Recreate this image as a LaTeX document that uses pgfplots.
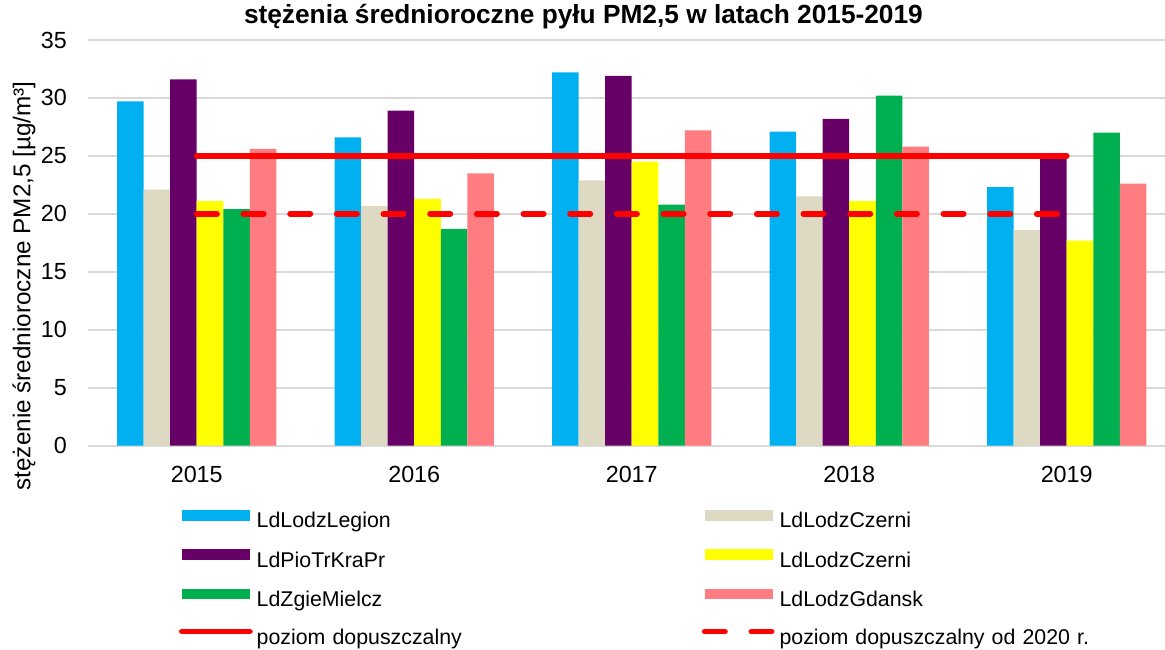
\documentclass[border=0pt]{standalone}
\usepackage{fontspec}
\setmainfont{Liberation Sans}
\usepackage{pgfplots}
\pgfplotsset{compat=1.18}
\definecolor{cBlue}{HTML}{00B0F0}
\definecolor{cBeige}{HTML}{DDD9C3}
\definecolor{cPurple}{HTML}{660066}
\definecolor{cYellow}{HTML}{FFFF00}
\definecolor{cGreen}{HTML}{00AF50}
\definecolor{cPink}{HTML}{FF7C80}
\definecolor{cRed}{HTML}{FF0000}
\definecolor{cGrid}{HTML}{D9D9D9}
\pgfplotsset{
  barimg/.style={legend image code/.code={\fill[##1] (0pt,1.5pt) rectangle (51pt,9.5pt);}},
  lineimg/.style={legend image code/.code={\draw[##1] (0pt,5.5pt) -- (51pt,5.5pt);}},
}
\begin{document}
\begin{tikzpicture}
\path[use as bounding box] (0,0) rectangle (873.75pt,487.5pt);
\clip (0,0) rectangle (873.75pt,487.5pt);
\begin{axis}[
  at={(66pt,153.2pt)}, anchor=south west,
  scale only axis, width=815.6pt, height=304.3pt,
  xmin=-0.5, xmax=4.5, ymin=0, ymax=35,
  xtick={0,1,2,3,4}, xticklabels={2015,2016,2017,2018,2019},
  ytick={0,5,...,35},
  major tick length=0pt,
  axis lines=left,
  axis line style={draw=none},
  ymajorgrids, grid style={draw=cGrid, line width=1.2pt},
  /pgf/number format/assume math mode=true,
  ticklabel style={font=\fontsize{17.5}{18}\selectfont, inner sep=0pt},
  yticklabel style={anchor=east, xshift=-15.75pt},
  xticklabel style={anchor=north, yshift=-15pt},
  ylabel={stężenie średnioroczne PM2,5 [µg/m³]},
  ylabel style={at={(axis description cs:-0.0589,0.394)}, anchor=center, font=\fontsize{18.2}{19}\selectfont},
  title={stężenia średnioroczne pyłu PM2,5 w latach 2015-2019},
  title style={at={(axis description cs:0.4556,1)}, anchor=base, yshift=6.75pt, font=\bfseries\fontsize{19.7}{20}\selectfont},
  clip=false,
  legend cell align=left,
  legend columns=2,
  legend style={draw=none, fill=none, inner sep=0pt, outer sep=0pt,
    at={(axis description cs:0.0837,-0.158)}, anchor=north west,
    font=\fontsize{16}{16}\selectfont,
    row sep=12.1pt,
    nodes={inner sep=0pt, text height=12pt, text depth=4pt, text width=300pt, align=left},
    /tikz/every odd column/.append style={column sep=3pt},
    /tikz/every even column/.append style={column sep=33.8pt}},
]
\addplot[ybar, bar width=0.122, bar shift=-0.305, fill=cBlue, draw=none, barimg] coordinates {(0,29.7) (1,26.6) (2,32.2) (3,27.1) (4,22.3)};
\addlegendentry{LdLodzLegion}
\addplot[ybar, bar width=0.122, bar shift=-0.183, fill=cBeige, draw=none, barimg] coordinates {(0,22.1) (1,20.7) (2,22.9) (3,21.5) (4,18.6)};
\addlegendentry{LdLodzCzerni}
\addplot[ybar, bar width=0.122, bar shift=-0.061, fill=cPurple, draw=none, barimg] coordinates {(0,31.6) (1,28.9) (2,31.9) (3,28.2) (4,25.0)};
\addlegendentry{LdPioTrKraPr}
\addplot[ybar, bar width=0.122, bar shift=0.061, fill=cYellow, draw=none, barimg] coordinates {(0,21.1) (1,21.3) (2,24.5) (3,21.1) (4,17.7)};
\addlegendentry{LdLodzCzerni}
\addplot[ybar, bar width=0.122, bar shift=0.183, fill=cGreen, draw=none, barimg] coordinates {(0,20.4) (1,18.7) (2,20.8) (3,30.2) (4,27.0)};
\addlegendentry{LdZgieMielcz}
\addplot[ybar, bar width=0.122, bar shift=0.305, fill=cPink, draw=none, barimg] coordinates {(0,25.6) (1,23.5) (2,27.2) (3,25.8) (4,22.6)};
\addlegendentry{LdLodzGdansk}
\addplot[cRed, line width=4.3pt, line cap=round, mark=none, lineimg] coordinates {(0,25) (1,25) (2,25) (3,25) (4,25)};
\addlegendentry{poziom dopuszczalny}
\addplot[cRed, line width=4.3pt, line cap=round, dash pattern=on 15.2pt off 19.8pt, mark=none, lineimg] coordinates {(0,20) (1,20) (2,20) (3,20) (4,20)};
\addlegendentry{poziom dopuszczalny od 2020 r.}
\end{axis}
\end{tikzpicture}
\end{document}
